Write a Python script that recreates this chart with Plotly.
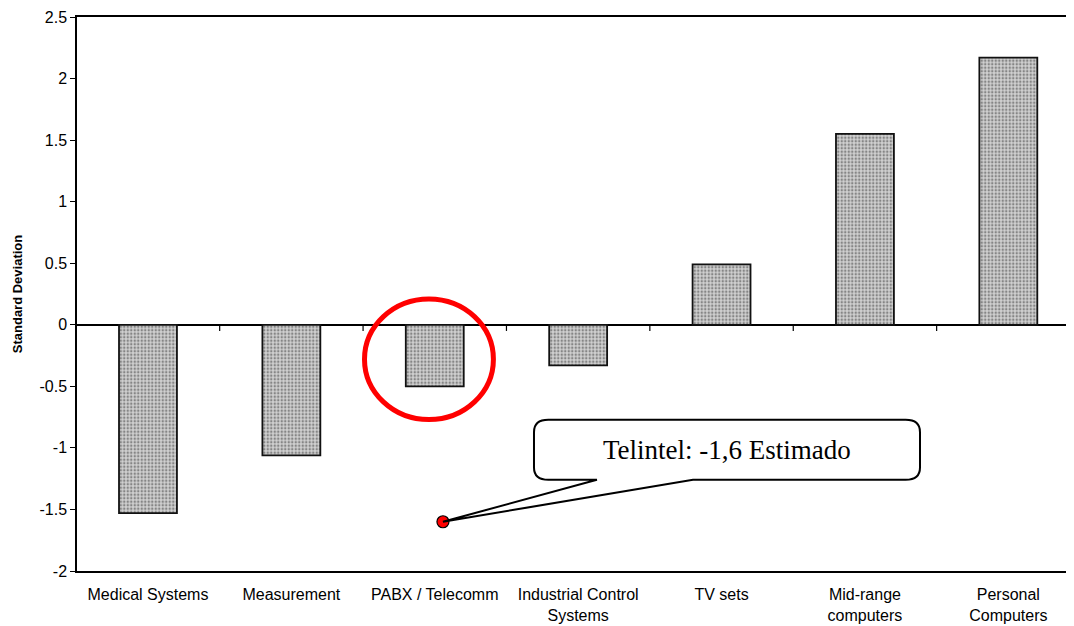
import plotly.graph_objects as go

categories = ["Medical Systems", "Measurement", "PABX / Telecomm",
              "Industrial Control<br>Systems", "TV sets",
              "Mid-range<br>computers", "Personal<br>Computers"]
std_dev = [-1.53, -1.06, -0.50, -0.33, 0.49, 1.55, 2.17]
y_ticks = [-2, -1.5, -1, -0.5, 0, 0.5, 1, 1.5, 2, 2.5]
y_tick_labels = ["-2", "-1.5", "-1", "-0.5", "0", "0.5", "1", "1.5", "2", "2.5"]
telintel_x = [2.057]
telintel_value = [-1.6]
callout_text = "Telintel: -1,6 Estimado"

xpos = list(range(len(categories)))

fig = go.Figure()
fig.add_trace(go.Bar(
    x=xpos, y=std_dev, width=0.404,
    marker=dict(color="#c4c4c4",
                line=dict(color="#111", width=1.8),
                pattern=dict(shape=".", fgcolor="#3a3a3a", bgcolor="#d0d0d0",
                             size=3.5, solidity=0.4)),
    showlegend=False, hoverinfo="skip"))

# small ticks on zero line at category boundaries
shapes = []
for k in range(len(categories) - 1):
    shapes.append(dict(type="line", xref="x", yref="y", x0=k + 0.5, x1=k + 0.5,
                       y0=0, y1=-0.05, line=dict(color="black", width=1.2)))

# red circle around PABX bar
shapes.append(dict(type="circle", xref="x", yref="y", x0=1.51, x1=2.409,
                   y0=0.21, y1=-0.77, line=dict(color="#ff0000", width=5)))

# callout bubble
x0, x1, y0, y1 = 2.692, 5.384, -0.772, -1.259
rx, ry = 0.1, 0.1
tx0, tx1 = 3.131, 3.801
px, py = telintel_x[0], telintel_value[0]
path = (f"M {x0+rx},{y0} L {x1-rx},{y0} Q {x1},{y0} {x1},{y0-ry} "
        f"L {x1},{y1+ry} Q {x1},{y1} {x1-rx},{y1} L {tx1},{y1} "
        f"L {px},{py} L {tx0},{y1} L {x0+rx},{y1} Q {x0},{y1} {x0},{y1+ry} "
        f"L {x0},{y0-ry} Q {x0},{y0} {x0+rx},{y0} Z")
shapes.append(dict(type="path", xref="x", yref="y", path=path,
                   fillcolor="white", line=dict(color="black", width=2)))

fig.add_trace(go.Scatter(
    x=telintel_x, y=telintel_value, mode="markers",
    marker=dict(color="#ff0000", size=12, line=dict(color="black", width=1.2)),
    showlegend=False, hoverinfo="skip"))

fig.add_annotation(x=(x0 + x1) / 2, y=(y0 + y1) / 2, xref="x", yref="y",
                   text=callout_text, showarrow=False,
                   font=dict(family="Liberation Serif, Times New Roman, serif",
                             size=27, color="black"))

fig.update_layout(
    width=1066, height=618,
    margin=dict(l=69, r=2, t=9, b=55),
    paper_bgcolor="white", plot_bgcolor="white",
    shapes=shapes,
    font=dict(family="Liberation Sans, Arial, sans-serif", size=16, color="black"),
    xaxis=dict(range=[-0.495, 6.444], tickvals=xpos, ticktext=categories,
               showline=True, mirror=True, linecolor="black", linewidth=1.5,
               ticks="", showgrid=False, zeroline=False, automargin=False,
               ticklabelstandoff=8, tickfont=dict(size=16)),
    yaxis=dict(range=[-2, 2.5], tickvals=y_ticks, ticktext=y_tick_labels,
               showline=True, linecolor="black", linewidth=1.5,
               ticks="outside", ticklen=5, tickcolor="black", automargin=False,
               showgrid=False, zeroline=True, zerolinecolor="black", zerolinewidth=1.5,
               tickfont=dict(size=16),
               title=dict(text="<b>Standard Deviation</b>", font=dict(size=13), standoff=14)),
)

fig.write_html("out.html")
